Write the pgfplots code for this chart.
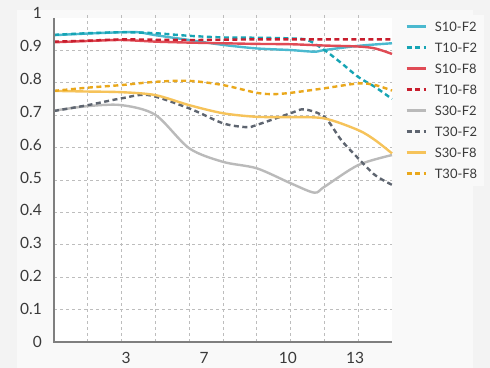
\documentclass[border=0pt]{standalone}
\usepackage{pgfplots}
\pgfplotsset{compat=1.18}
\usepackage{fontspec}
\setmainfont{Lato}
\definecolor{pagebg}{HTML}{F3F3F3}
\definecolor{panelbg}{HTML}{F9F9F9}
\definecolor{axgray}{HTML}{7F7F7F}
\definecolor{gridgray}{HTML}{BDBDBD}
\definecolor{txt}{HTML}{3A3A3A}
\definecolor{tealS}{HTML}{4BB9CF}
\definecolor{tealT}{HTML}{16A4B4}
\definecolor{redS}{HTML}{E04B55}
\definecolor{redT}{HTML}{C81E2E}
\definecolor{grayS}{HTML}{BABABA}
\definecolor{grayT}{HTML}{5E6570}
\definecolor{orS}{HTML}{F6C35A}
\definecolor{orT}{HTML}{EAA81C}
\begin{document}
\begin{tikzpicture}
\useasboundingbox (0bp,0bp) rectangle (490bp,368bp);
\fill[pagebg] (0bp,0bp) rectangle (490bp,368bp);
\fill[panelbg] (17bp,0bp) rectangle (473bp,358bp);
\fill[white] (54bp,26bp) rectangle (392bp,350bp);
\begin{axis}[
  at={(54bp,26bp)}, anchor=south west,
  scale only axis, width=338bp, height=329bp,
  xmin=0, xmax=10, ymin=0, ymax=1.0154,
  axis x line*=bottom, axis y line*=left,
  axis line style={draw=none},
  xtick={2.13,4.44,6.92,8.91}, xticklabels={3,7,10,13},
  ytick={0,0.1015,0.203,0.3046,0.4061,0.5077,0.6092,0.7108,0.8123,0.9139,1.0154},
  yticklabels={0,0.1,0.2,0.3,0.4,0.5,0.6,0.7,0.8,0.9,1},
  minor xtick={1,2,3,4,5,6,7,8,9},
  minor ytick={0.1,0.2,0.3,0.4,0.5,0.6,0.7,0.8,0.9},
  xminorgrids, yminorgrids,
  minor grid style={draw=gridgray, line width=0.8bp, dash pattern=on 3bp off 3bp},
  major tick length=0pt, minor tick length=0pt,
  tick label style={font=\fontsize{15.5bp}{18bp}\selectfont, text=txt},
  yticklabel style={inner sep=0pt, anchor=east, xshift=-12bp},
  xticklabel style={inner sep=0pt, anchor=north, yshift=-10bp},
  clip=false,
  legend cell align=left,
  legend image code/.code={\draw[#1, line width=2.5bp] (0bp,0bp) -- (19bp,0bp);},
  legend style={at={(1.018,0.9954)}, anchor=north west, draw=none, fill=panelbg,
    font=\fontsize{13bp}{15bp}\selectfont, text=txt,
    inner xsep=7bp, inner ysep=7bp, row sep=11bp,
    nodes={inner sep=0pt, text height=10bp, text depth=0pt},
    /tikz/every even column/.append style={column sep=0bp}},
  every axis plot/.append style={line width=2.4bp, smooth, tension=0.5},
]
\addplot[tealS] coordinates {(0,0.947) (1,0.952) (2,0.956) (2.5,0.956) (3,0.947) (4,0.932) (5,0.917) (6,0.906) (7,0.901) (7.7,0.896) (8,0.901) (9,0.914) (10,0.922)};
\addlegendentry{\hspace{8bp}S10-F2}
\addplot[tealT, dash pattern=on 5bp off 3.5bp] coordinates {(0,0.948) (1,0.953) (2,0.956) (3,0.953) (4,0.945) (5,0.940) (6,0.939) (7,0.937) (7.5,0.932) (8,0.901) (8.5,0.861) (9,0.818) (9.5,0.787) (10,0.750)};
\addlegendentry{\hspace{8bp}T10-F2}
\addplot[redS] coordinates {(0,0.925) (1,0.929) (2,0.932) (3,0.927) (4,0.924) (5,0.922) (6,0.920) (7,0.919) (8,0.915) (9,0.912) (9.5,0.906) (10,0.889)};
\addlegendentry{\hspace{8bp}S10-F8}
\addplot[redT, dash pattern=on 5bp off 3.5bp] coordinates {(0,0.927) (1,0.930) (2,0.934) (3,0.933) (4,0.932) (5,0.933) (6,0.934) (7,0.934) (8,0.934) (9,0.934) (10,0.934)};
\addlegendentry{\hspace{8bp}T10-F8}
\addplot[grayS] coordinates {(0,0.714) (1,0.728) (2,0.731) (3,0.701) (4,0.598) (5,0.556) (6,0.536) (7,0.490) (7.7,0.461) (8,0.479) (9,0.546) (10,0.577)};
\addlegendentry{\hspace{8bp}S30-F2}
\addplot[grayT, dash pattern=on 5bp off 3.5bp] coordinates {(0,0.713) (1,0.731) (2,0.752) (2.8,0.762) (4,0.721) (5,0.675) (5.7,0.663) (6,0.670) (7,0.706) (7.4,0.718) (8,0.695) (8.5,0.623) (9,0.567) (9.5,0.515) (10,0.485)};
\addlegendentry{\hspace{8bp}T30-F2}
\addplot[orS] coordinates {(0,0.775) (1,0.773) (2,0.771) (3,0.762) (4,0.731) (5,0.706) (6,0.695) (7,0.694) (8,0.690) (9,0.654) (9.5,0.623) (10,0.582)};
\addlegendentry{\hspace{8bp}S30-F8}
\addplot[orT, dash pattern=on 5bp off 3.5bp] coordinates {(0,0.775) (1,0.785) (2,0.793) (3,0.803) (4,0.806) (5,0.793) (6,0.769) (6.5,0.765) (7,0.769) (8,0.783) (9,0.798) (9.5,0.793) (10,0.776)};
\addlegendentry{\hspace{8bp}T30-F8}
\end{axis}
\draw[axgray, line width=1.3bp] (54bp,350bp) -- (54bp,26bp) -- (392bp,26bp);
\end{tikzpicture}
\end{document}
